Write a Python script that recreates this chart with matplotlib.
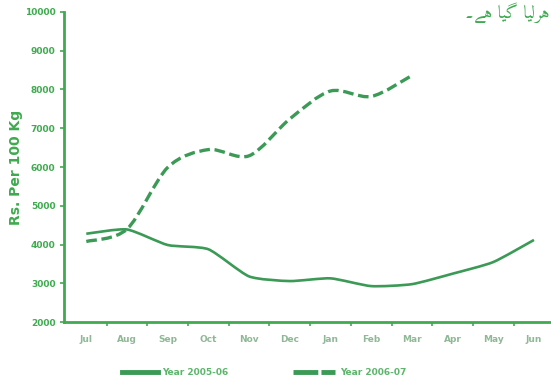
import numpy as np
import matplotlib.pyplot as plt
from matplotlib.path import Path
from matplotlib.patches import PathPatch
from matplotlib.lines import Line2D

GREEN = '#3faa4f'
LINE_GREEN = '#3b9a55'
LABEL_GREY = '#8fb896'
LEGEND_GREEN = '#5db56c'

months = ['Jul', 'Aug', 'Sep', 'Oct', 'Nov', 'Dec', 'Jan', 'Feb', 'Mar', 'Apr', 'May', 'Jun']
year_0506 = [4280, 4390, 3990, 3880, 3180, 3060, 3130, 2930, 2980, 3250, 3550, 4120]
year_0607 = [4080, 4400, 5990, 6450, 6290, 7240, 7960, 7820, 8360]
yticks = [2000, 3000, 4000, 5000, 6000, 7000, 8000, 9000, 10000]
# "ہرلیا گیا ہے۔" written with joined letter forms, in left-to-right visual order
urdu_note = '\u06D4\uFBAF\uFBA8 \uFE8E\uFBFF\uFB94 \uFE8E\uFBFF\uFEDF\uFEAE\uFBA8'


def smooth_path(xs, ys, t=0.17):
    # cardinal-spline style bezier through every point
    pts = np.column_stack([xs, ys]).astype(float)
    verts = [pts[0]]
    codes = [Path.MOVETO]
    n = len(pts)
    for i in range(n - 1):
        p0 = pts[i - 1] if i > 0 else pts[i]
        p1, p2 = pts[i], pts[i + 1]
        p3 = pts[i + 2] if i + 2 < n else pts[i + 1]
        c1 = p1 + (p2 - p0) * t
        c2 = p2 - (p3 - p1) * t
        verts += [c1, c2, p2]
        codes += [Path.CURVE4] * 3
    return Path(verts, codes)


fig = plt.figure(figsize=(5.51, 3.84), dpi=100, facecolor='white')
ax = fig.add_axes([0.116, 0.161, 0.89, 0.808])

x6 = np.arange(len(year_0506))
x7 = np.arange(len(year_0607))
ax.add_patch(PathPatch(smooth_path(x6, year_0506, 0.1), fill=False, edgecolor=LINE_GREEN,
                       lw=1.9, capstyle='butt', joinstyle='round'))
ax.add_patch(PathPatch(smooth_path(x7, year_0607, 0.15), fill=False, edgecolor=LINE_GREEN,
                       lw=2.4, linestyle=(0, (3.2, 1.4)), capstyle='butt'))

ax.set_xlim(-0.55, 11.5)
ax.set_ylim(2000, 10000)
ax.set_yticks(yticks)
ax.set_yticklabels([str(v) for v in yticks], color=GREEN, fontweight='bold', fontsize=6.5)
ax.set_xticks(np.arange(len(months)))
ax.set_xticklabels(months, color=LABEL_GREY, fontweight='bold', fontsize=6.5)
ax.set_xticks(np.arange(len(months)) + 0.5, minor=True)
ax.tick_params(axis='x', which='major', length=0, pad=9)
ax.tick_params(axis='x', which='minor', length=3, width=1.2, color=GREEN, direction='out')
ax.tick_params(axis='y', length=3, width=1.2, color=GREEN, pad=3)

for side in ['top', 'right']:
    ax.spines[side].set_visible(False)
for side in ['left', 'bottom']:
    ax.spines[side].set_color(GREEN)
    ax.spines[side].set_linewidth(2)

ax.set_ylabel('Rs. Per 100 Kg', color=GREEN, fontweight='bold', fontsize=10)
ax.yaxis.set_label_coords(-0.084, 0.5)

# two separate legend entries spread along the bottom
entries = [(Line2D([], [], color=LINE_GREEN, lw=3.5), 'Year 2005-06', 0.222, 3.9),
           (Line2D([], [], color=LINE_GREEN, lw=3.5, linestyle=(0, (5.1, 0.65, 2.9, 10))),
            'Year 2006-07', 0.532, 4.6)]
for handle, label, xpos, hlen in entries:
    leg = fig.legend([handle], [label], loc='center left', bbox_to_anchor=(xpos, 0.029),
                     frameon=False, fontsize=6.5, handlelength=hlen, handletextpad=0.55,
                     borderpad=0, borderaxespad=0)
    for txt in leg.get_texts():
        txt.set_color(LEGEND_GREEN)
        txt.set_fontweight('bold')

fig.text(0.998, 0.966, urdu_note, ha='right', va='center', color=GREEN,
         fontsize=13, family=['Amiri', 'DejaVu Sans'])

fig.savefig('out.png', dpi=100, facecolor='white')
